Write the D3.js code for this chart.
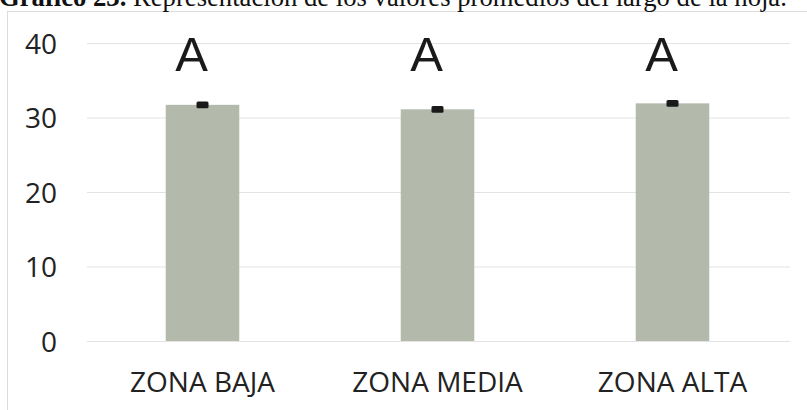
<!DOCTYPE html>
<html>
<head>
<meta charset="utf-8">
<script src="https://cdn.jsdelivr.net/npm/d3@7"></script>
<style>
  html, body { margin: 0; padding: 0; background: #fff; }
  svg { display: block; }
</style>
</head>
<body>
<svg id="chart" width="807" height="410"></svg>
<script>
// ---- data ----
const categories = ["ZONA BAJA", "ZONA MEDIA", "ZONA ALTA"];
const means = [31.7, 31.1, 31.9];
const errors = [0.25, 0.25, 0.25];
const groupLetters = ["A", "A", "A"];
const yTicks = [0, 10, 20, 30, 40];
const titleBold = "Gráfico 23.";
const titleRest = " Representación de los valores promedios del largo de la hoja.";

const svg = d3.select("#chart");

// chart frame (only top/left edges visible)
svg.append("rect")
  .attr("x", 7.5).attr("y", 11.5)
  .attr("width", 900).attr("height", 600)
  .attr("fill", "none").attr("stroke", "#dcdcdc").attr("stroke-width", 1);

// title (partially cut at top)
const title = svg.append("text")
  .attr("x", -1).attr("y", 6)
  .attr("font-family", "'Liberation Serif', 'Times New Roman', serif")
  .attr("font-size", 100)
  .attr("fill", "#111");
title.append("tspan").attr("font-weight", "bold").text(titleBold);
title.append("tspan").text(titleRest);
const tw = title.node().getComputedTextLength();
title.attr("font-size", 100 * 788 / tw);

const y = d3.scaleLinear().domain([0, 40]).range([341, 43]);
const x = d3.scaleBand().domain(categories).range([85, 790])
  .paddingInner(0.687).paddingOuter(0.3435);

// gridlines
const grid = d3.axisLeft(y).tickValues(yTicks).tickSize(-(790 - 87)).tickFormat("");
svg.append("g")
  .attr("transform", "translate(790,0)")
  .call(d3.axisRight(y).tickValues(yTicks).tickSize(-(790 - 87)).tickFormat(""))
  .call(g => g.select(".domain").remove())
  .call(g => g.selectAll(".tick line").attr("stroke", "#e3e3e3").attr("stroke-width", 1));

// y tick labels
svg.append("g")
  .attr("transform", "translate(57,0)")
  .call(d3.axisLeft(y).tickValues(yTicks).tickSize(0).tickPadding(0))
  .call(g => g.select(".domain").remove())
  .call(g => g.selectAll("text")
    .attr("font-family", "'Open Sans', 'Noto Sans', sans-serif")
    .attr("font-size", 28)
    .attr("fill", "#222")
    .attr("dy", "0.36em"));

// bars
svg.append("g").selectAll("rect")
  .data(categories)
  .join("rect")
  .attr("x", d => x(d))
  .attr("width", x.bandwidth())
  .attr("y", (d, i) => y(means[i]))
  .attr("height", (d, i) => y(0) - y(means[i]))
  .attr("fill", "#b3baac");

// error bars
svg.append("g").selectAll("rect")
  .data(categories)
  .join("rect")
  .attr("x", d => x(d) + x.bandwidth() / 2 - 6)
  .attr("width", 12)
  .attr("y", (d, i) => y(means[i] + errors[i]) - 1.5)
  .attr("height", (d, i) => y(means[i] - errors[i]) - y(means[i] + errors[i]) + 3)
  .attr("rx", 1.5)
  .attr("fill", "#1a1a1a");

// group letters
svg.append("g").selectAll("text")
  .data(categories)
  .join("text")
  .attr("x", d => x(d) + x.bandwidth() / 2 - 11)
  .attr("y", 71)
  .attr("text-anchor", "middle")
  .attr("font-family", "'Liberation Sans', Arial, sans-serif")
  .attr("font-size", 49)
  .attr("fill", "#1a1a1a")
  .text((d, i) => groupLetters[i]);

// x axis labels
svg.append("g")
  .attr("transform", "translate(0,392)")
  .call(d3.axisBottom(x).tickSize(0).tickPadding(0))
  .call(g => g.select(".domain").remove())
  .call(g => g.selectAll("text")
    .attr("font-family", "'Open Sans', 'Noto Sans', sans-serif")
    .attr("font-size", 28)
    .attr("fill", "#222")
    .attr("dy", 0));
</script>
</body>
</html>
